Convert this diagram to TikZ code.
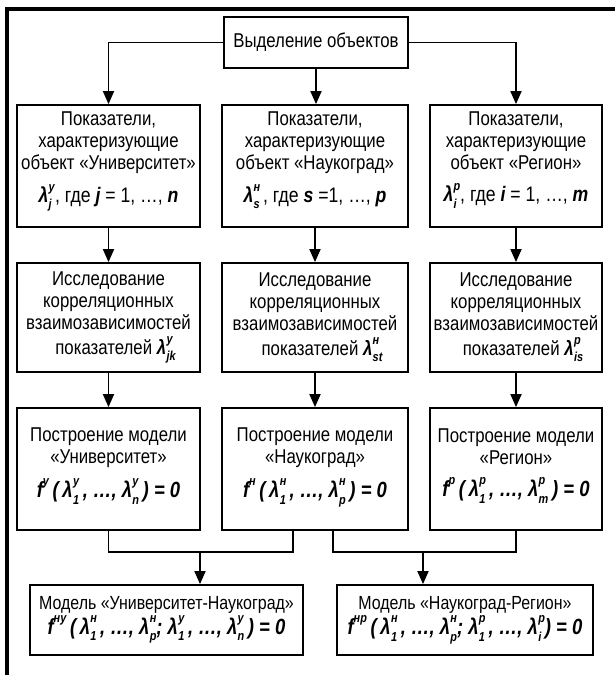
\documentclass[tikz,border=0pt]{standalone}
\usepackage{fontspec}
\setmainfont[FakeStretch=0.84]{Liberation Sans}
\usetikzlibrary{arrows.meta,calc}
\newcommand{\bi}[1]{{\bfseries\itshape #1}}
\newcommand{\sbx}[1]{{\fontsize{13pt}{13pt}\selectfont\bfseries\itshape #1}}
\newcommand{\lam}[2]{\bi{λ}\kern0.3pt\raisebox{-0.3em}{\rlap{\raisebox{0.85em}{\sbx{#1}}}\sbx{#2}}}
\newcommand{\fsup}[1]{\bi{f}\raisebox{0.55em}{\sbx{#1}}}
\newcommand{\fml}{\fontsize{22pt}{24pt}\selectfont}
\newcommand{\dn}[1]{\rule[-#1]{0pt}{#1}}
\begin{document}
\begin{tikzpicture}[x=1pt,y=1pt,
  box/.style={draw, line width=1.8pt, inner sep=0pt, align=center,
    font=\fontsize{20pt}{22pt}\selectfont},
  ln/.style={line width=1.8pt},
  arr/.style={ln, -{Triangle[length=13pt,width=11pt]}}]
\useasboundingbox (0,0) rectangle (615,-675);
\draw[line width=4.5pt, line join=miter] (7,-675) -- (7,-9) -- (615,-9);

\node[box, minimum width=184pt, minimum height=51pt] (top) at (316,-42.5) {Выделение объектов};

% row 1
\node[box, minimum width=183pt, minimum height=122pt] (r1L) at (108.5,-166)
  {Показатели,\\ характеризующие\\ объект «Университет»\\[10pt] {\fontsize{21pt}{22pt}\selectfont\lam{у}{j}\,, где \bi{j} = 1, …, \bi{n}}\dn{18pt}};
\node[box, minimum width=186pt, minimum height=122pt] (r1M) at (315,-166)
  {Показатели,\\ характеризующие\\ объект «Наукоград»\\[10pt] {\fontsize{21pt}{22pt}\selectfont\lam{н}{s}\,, где \bi{s} =1, …, \bi{p}}\dn{18pt}};
\node[box, minimum width=172pt, minimum height=122pt] (r1R) at (516,-166)
  {Показатели,\\ характеризующие\\ объект «Регион»\\[10pt] {\fontsize{21pt}{22pt}\selectfont\lam{р}{i}\,, где \bi{i} = 1, …, \bi{m}}\dn{18pt}};

% row 2
\node[box, minimum width=183pt, minimum height=109pt] (r2L) at (108.5,-317.5)
  {Исследование\\ корреляционных\\ взаимозависимостей\\[3pt] \hspace*{14pt}показателей \lam{у}{jk}};
\node[box, minimum width=186pt, minimum height=109pt] (r2M) at (315,-317.5)
  {Исследование\\ корреляционных\\ взаимозависимостей\\[3pt] \hspace*{14pt}показателей \lam{н}{st}};
\node[box, minimum width=172pt, minimum height=109pt] (r2R) at (516,-317.5)
  {Исследование\\ корреляционных\\ взаимозависимостей\\[3pt] \hspace*{14pt}показателей \lam{р}{is}};

% row 3
\node[box, minimum width=183pt, minimum height=122pt] (r3L) at (108.5,-469)
  {Построение модели\\ «Университет»\\[10pt] {\fml\bi{\fsup{у}\,(\,\lam{у}{1}\,, …, \lam{у}{n}\,) = 0}}\dn{12pt}};
\node[box, minimum width=186pt, minimum height=122pt] (r3M) at (315,-469)
  {Построение модели\\ «Наукоград»\\[10pt] {\fml\bi{\fsup{н}\,(\,\lam{н}{1}\,, …, \lam{н}{p}\,) = 0}}\dn{12pt}};
\node[box, minimum width=172pt, minimum height=122pt] (r3R) at (516,-469)
  {Построение модели\\ «Регион»\\[10pt] {\fml\bi{\fsup{р}\,(\,\lam{р}{1}\,, …, \lam{р}{m}\,) = 0}}\dn{12pt}};

% bottom
\node[box, minimum width=273pt, minimum height=70pt, font=\fontsize{19pt}{22pt}\selectfont] (bL) at (166.5,-620)
  {Модель «Университет-Наукоград»\\[1pt] {\fml\bi{\fsup{ну}\,(\,\lam{н}{1}\,, …, \lam{н}{p}; \lam{у}{1}\,, …, \lam{у}{n}\,) = 0}}};
\node[box, minimum width=256pt, minimum height=70pt, font=\fontsize{19pt}{22pt}\selectfont] (bR) at (465,-620)
  {Модель «Наукоград-Регион»\\[1pt] {\fml\bi{\fsup{нр}\,(\,\lam{н}{1}\,, …, \lam{н}{p}; \lam{р}{1}\,, …, \lam{р}{i}\,) = 0}}};

% connectors
\draw[arr] (top.west) -| (r1L.north);
\draw[arr] (top.east) -| (r1R.north);
\draw[arr] (top.south) -- (top.south |- r1M.north);
\foreach \c in {L,M,R}{
  \draw[arr] (r1\c.south) -- (r2\c.north);
  \draw[arr] (r2\c.south) -- (r3\c.north);
}
\coordinate (jL) at (200,-552);
\coordinate (jR) at (423,-552);
\draw[ln] (r3L.south) |- (jL) -| ([xshift=-22pt]r3M.south);
\draw[ln] (r3R.south) |- (jR) -| ([xshift=18pt]r3M.south);
\draw[arr] (jL) -- (jL |- bL.north);
\draw[arr] (jR) -- (jR |- bR.north);
\end{tikzpicture}
\end{document}
